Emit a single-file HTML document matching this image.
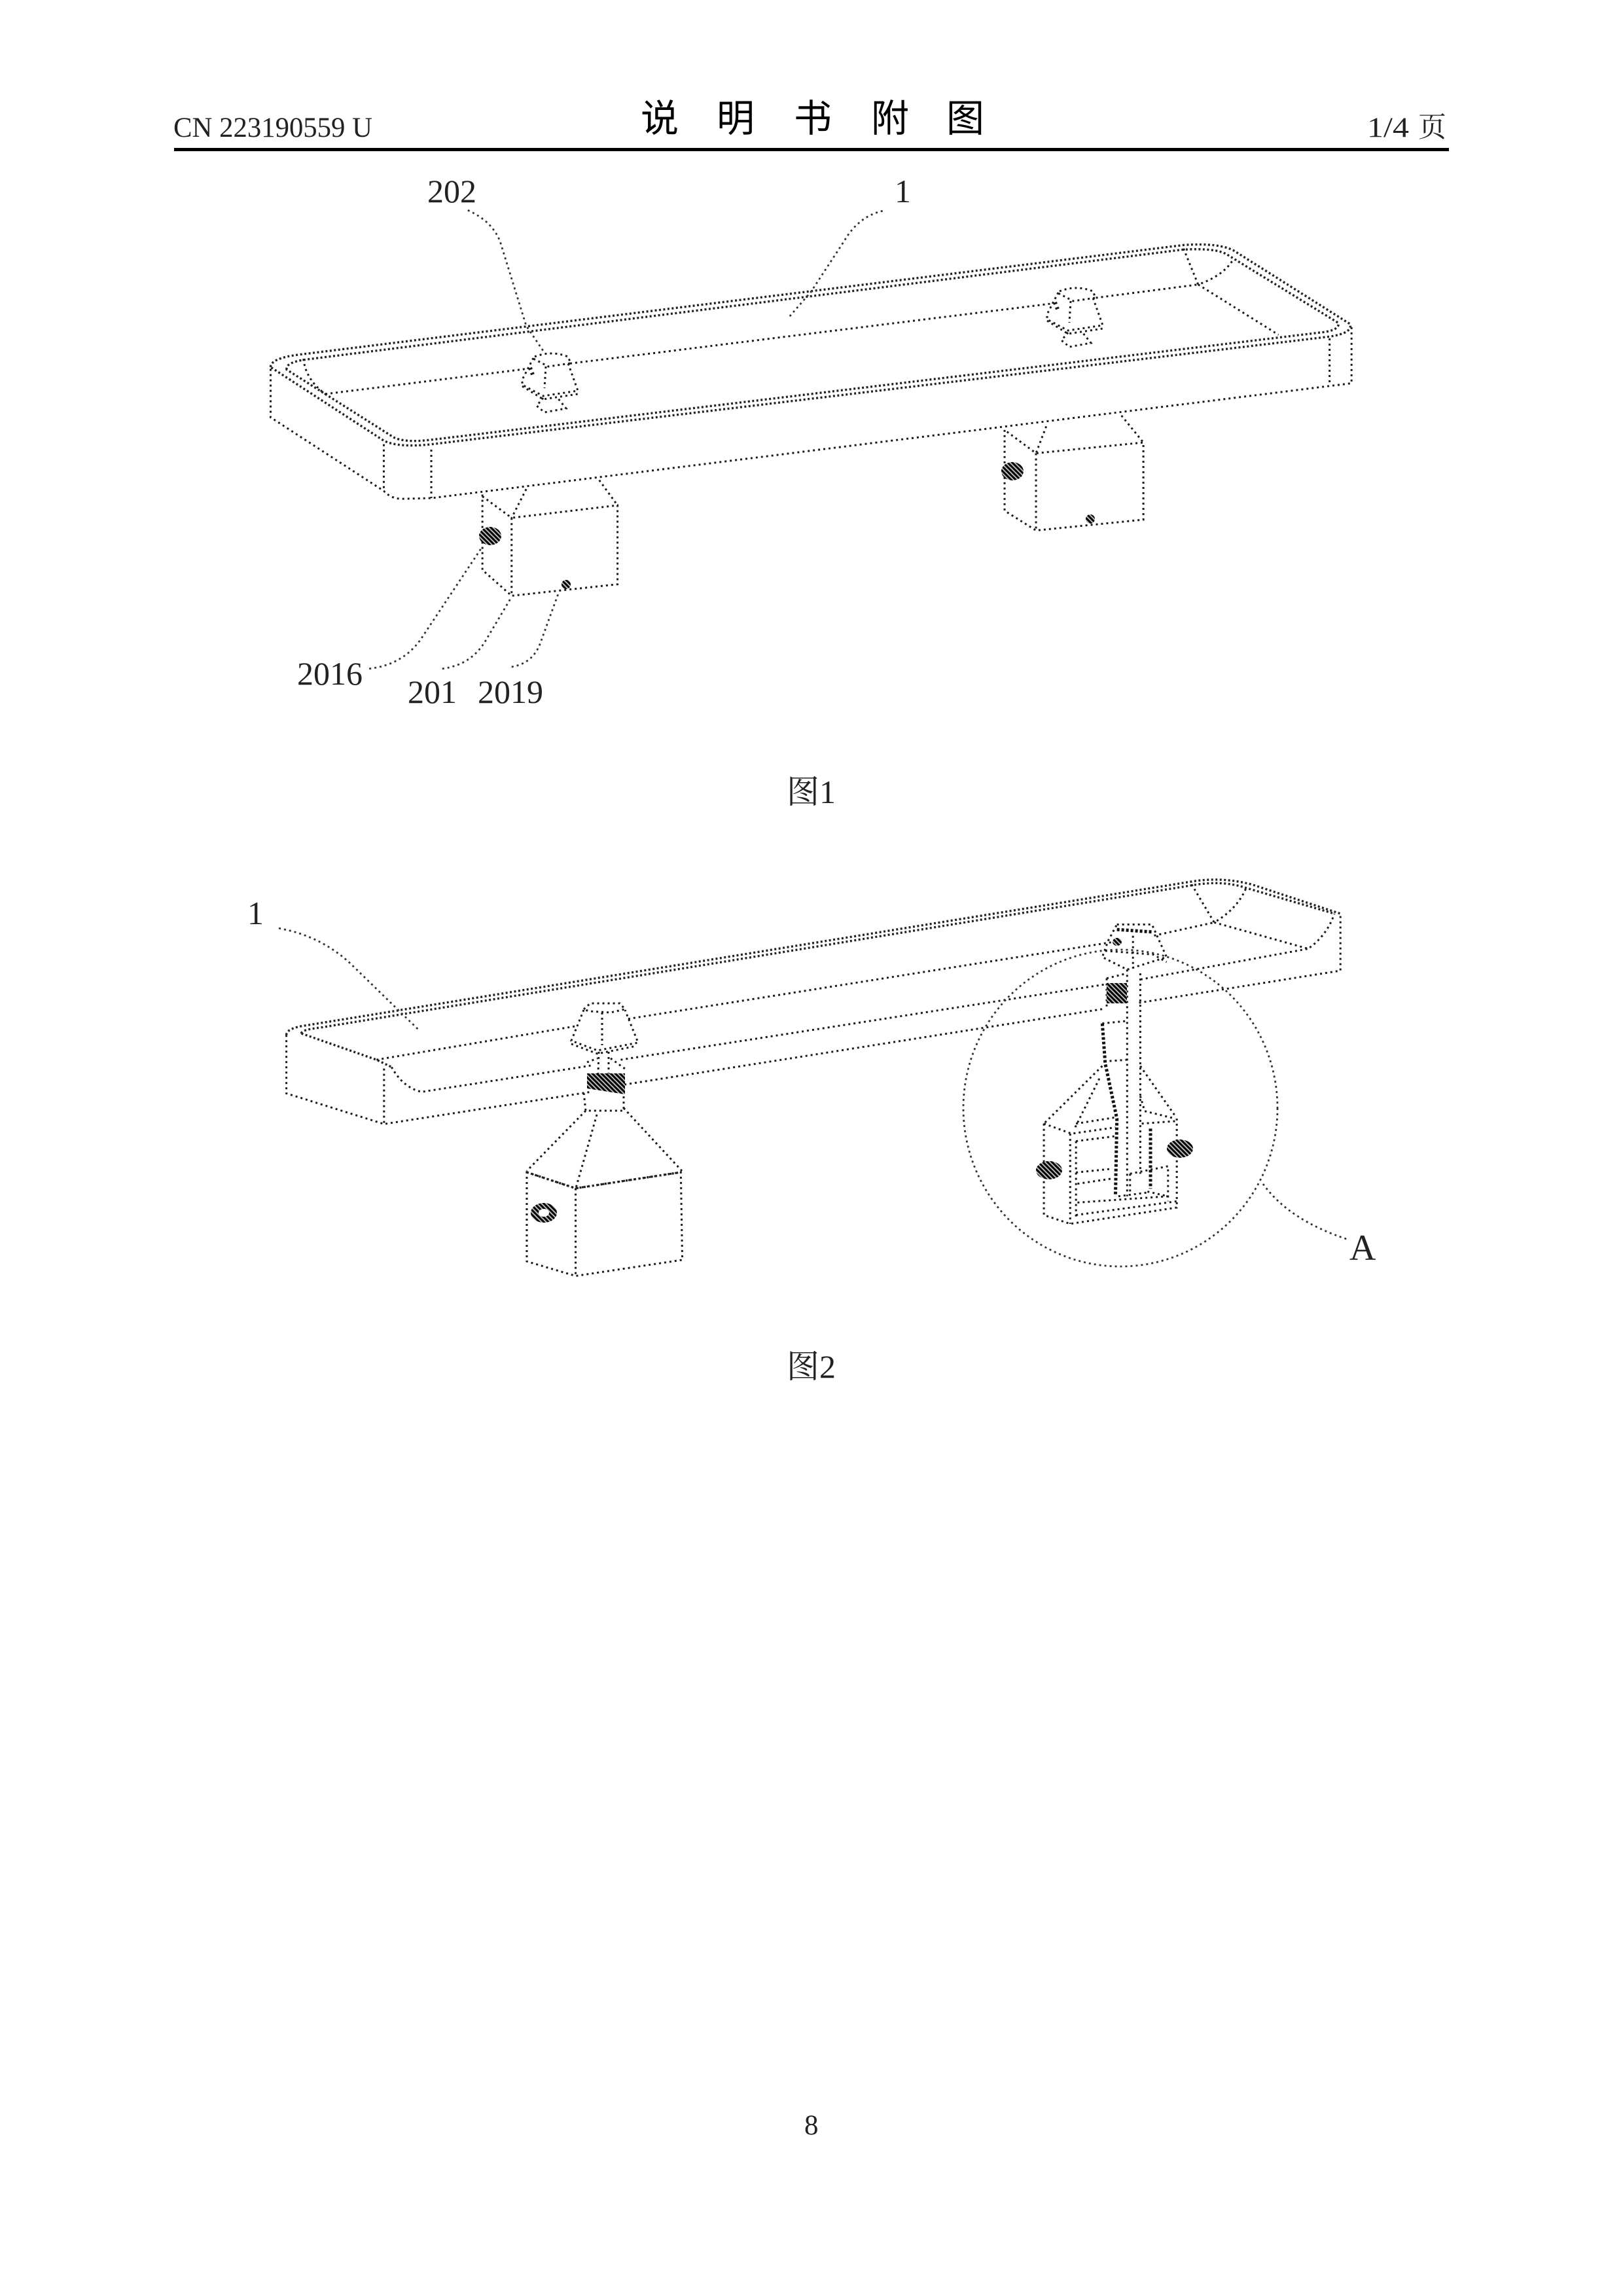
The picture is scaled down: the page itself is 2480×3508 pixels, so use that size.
<!DOCTYPE html>
<html><head><meta charset="utf-8"><style>
html,body{margin:0;padding:0;background:#fff}
svg{display:block}
.d path,.d ellipse{vector-effect:non-scaling-stroke;fill:none;stroke:#1a1a1a;stroke-width:3;stroke-dasharray:3 5}
.l path{stroke:#333;stroke-width:2.8;stroke-dasharray:3 5}
.r path{vector-effect:non-scaling-stroke;fill:none;stroke:#222;stroke-width:3.4;stroke-dasharray:3 3.5}
.k path{vector-effect:non-scaling-stroke;fill:none;stroke:#111;stroke-width:5;stroke-dasharray:4 3}
.h{fill:url(#hat);stroke:none}
text{font-family:"Liberation Serif","Noto Serif CJK SC",serif;fill:#111}
.t{font-family:"Noto Sans CJK SC","Liberation Sans",sans-serif;font-size:58px;fill:#000}
.n{font-size:50px;fill:#222}
.s{font-size:43px;fill:#222}
</style></head><body>
<svg xmlns="http://www.w3.org/2000/svg" width="2480" height="3508" viewBox="0 0 2480 3508">
<defs>
<pattern id="hat" patternUnits="userSpaceOnUse" width="7" height="7">
<rect width="7" height="7" fill="#bbb"/>
<path d="M-1,-1 L8,8 M-1,6 L1,8 M6,-1 L8,1" stroke="#000" stroke-width="3"/>
</pattern>
</defs>
<rect width="2480" height="3508" fill="#fff"/>

<text class="s" x="265" y="209" textLength="304" lengthAdjust="spacingAndGlyphs">CN 223190559 U</text>
<text class="t" x="979" y="201">说</text>
<text class="t" x="1095" y="201">明</text>
<text class="t" x="1213" y="201">书</text>
<text class="t" x="1331" y="201">附</text>
<text class="t" x="1446" y="201">图</text>
<text class="s" x="2089" y="209" textLength="64" lengthAdjust="spacingAndGlyphs">1/4</text>
<text class="s" x="2167" y="209">页</text>
<rect x="266" y="226" width="1948" height="5" fill="#000"/>

<!-- FIG 1 -->
<g transform="translate(380,240) scale(1.116,0.5485)">
 <g class="r">
  <path d="M30,585 Q30,560 70,550 L1280,245 Q1330,238 1350,262 L1508,465 Q1512,490 1480,500 L250,800 Q205,810 185,790 Z"/>
  <path d="M52,592 Q50,572 78,564 L1278,258 Q1325,252 1340,272 L1492,462 Q1494,482 1470,488 L248,788 Q212,796 198,780 Z"/>
 </g>
 <g class="d">
  <path d="M105,660 L380,590 M440,575 L1100,408 M1160,392 L1300,355"/>
  <path d="M75,562 Q78,620 105,660"/>
  <path d="M1280,255 L1300,355 Q1335,330 1348,285 M1300,355 L1410,495"/>
  <path d="M30,590 L30,725 L185,930 Q195,952 210,952 L250,950 L1510,630 L1510,470"/>
  <path d="M185,800 L185,930 M250,815 L250,950 M1480,505 L1480,635"/>
 </g>
 <g class="d">
  <path d="M320,940 L320,1150 L360,1222 M360,1005 L360,1222 L505,1190 L505,970 L360,1005 M320,945 L360,1005 M380,925 L360,1005 M480,900 L505,970"/>
  <path d="M1035,760 L1035,985 L1078,1040 L1225,1010 L1225,795 L1078,825 L1035,760 M1078,825 L1078,1040 M1092,750 L1078,825 M1195,720 L1225,795"/>
 </g>
 <g class="d l">
  <path d="M300,148 Q335,180 345,240 L380,470 L405,545"/>
  <path d="M868,150 Q835,165 815,235 L770,375 L738,450"/>
  <path d="M165,1425 Q210,1415 235,1345 L320,1085"/>
  <path d="M265,1425 Q305,1415 325,1345 L360,1225"/>
  <path d="M360,1420 Q390,1410 400,1350 L425,1210"/>
 </g>
</g>
<g id="p1" class="d">
 <path d="M817,545 Q843,535 868,545 L872,555 L838,560 L815,548 Z"/>
 <path d="M815,547 L798,580 L798,588 L830,605 L883,597 L868,555 M834,560 L832,593 M798,590 L830,610 L883,602"/>
 <path d="M830,608 L820,620 L832,630 L865,624 L852,608"/>
 <path d="M810,562 L815,575" style="stroke-width:6"/>
</g>
<use href="#p1" x="802" y="-100"/>
<ellipse class="h" cx="749" cy="819" rx="17" ry="14"/>
<ellipse class="h" cx="1547" cy="720" rx="17" ry="14"/>
<ellipse class="h" cx="865" cy="893" rx="7" ry="7"/>
<ellipse class="h" cx="1666" cy="793" rx="7" ry="7"/>
<text class="n" x="653" y="309">202</text>
<text class="n" x="1367" y="309">1</text>
<text class="n" x="454" y="1046">2016</text>
<text class="n" x="623" y="1074">201</text>
<text class="n" x="730" y="1074">2019</text>
<text class="n" x="1202" y="1227">图1</text>

<!-- FIG 2 -->
<g transform="translate(340,1300) scale(1.148,0.4464)">
 <g class="r">
  <path d="M85,630 Q85,610 105,600 L1290,105 Q1330,88 1370,115 L1488,215"/>
  <path d="M105,625 Q105,612 130,605 L1290,118 Q1330,100 1360,125 L1480,215"/>
  <path d="M105,625 L205,715 L225,740"/>
 </g>
 <g class="d">
  <path d="M205,715 L470,600 M540,575 L1190,310 M1240,290 L1320,245"/>
  <path d="M225,740 Q240,810 265,825 L490,735 M530,715 L1180,455 M1222,440 L1445,335"/>
  <path d="M1290,115 L1320,245 Q1350,200 1362,130 M1320,245 L1445,335 Q1470,290 1480,215"/>
  <path d="M85,630 L85,830 L215,935 L490,825 M535,800 L1175,540 M1220,520 L1488,410 L1488,215"/>
  <path d="M215,745 L215,935"/>
  <path d="M405,1100 L470,1155 L610,1100 L612,1400 L470,1455 L405,1405 Z M470,1155 L470,1455"/>
 </g>
 <g class="r"><path d="M405,1100 L470,1155 L610,1100"/></g>
 <g class="d l">
  <path d="M75,265 Q130,290 170,385 L262,615"/>
  <path d="M1385,1140 Q1420,1265 1498,1330"/>
 </g>
</g>
<!-- left post fig 2 -->
<g class="d">
 <path d="M892,1542 L902,1533 L947,1533 L955,1542 L933,1547 L900,1545 Z"/>
 <path d="M892,1543 L873,1590 L913,1605 L975,1593 L955,1543 M873,1595 L913,1610 L973,1598 M920,1547 L920,1597"/>
 <path d="M915,1607 L914,1640 M930,1607 L930,1640"/>
 <path d="M897,1623 L913,1617 M933,1617 L955,1633"/>
 <path d="M892,1670 L895,1697 L953,1697 L953,1670"/>
 <path d="M895,1697 L805,1789 M953,1693 L1042,1789 M912,1703 L880,1815"/>
</g>
<path class="h" d="M897,1640 L955,1640 L955,1672 L897,1663 Z"/>
<ellipse class="h" cx="831" cy="1853" rx="20" ry="15"/>
<ellipse cx="831" cy="1853" rx="8" ry="6" fill="#fff"/>

<ellipse cx="1712" cy="1693" rx="240" ry="242" fill="none" stroke="#333" stroke-width="2.8" stroke-dasharray="3 5"/>
<text class="n" x="378" y="1412">1</text>
<text style="font-size:56px;fill:#222" x="2062" y="1925">A</text>

<!-- detail inside circle -->
<g transform="translate(1450,1380) scale(.4464,.3827)">
 <g class="d">
  <path d="M575,85 L695,85 L745,215 L610,265 L525,215 L545,150 Z"/>
  <path d="M630,130 L630,260 M535,190 L700,205 L745,235"/>
  <path d="M610,265 L610,1170 M655,280 L655,1080"/>
  <path d="M540,300 L610,280 M540,300 L540,420"/>
  <path d="M525,480 L610,470 M550,630 L610,625"/>
  <path d="M525,650 L325,880 M515,700 L430,900 M655,650 L775,850 M655,770 L670,830 L775,860"/>
  <path d="M325,880 L420,920 L570,895 M325,880 L325,1245 L415,1280 L780,1215 L780,860 M415,920 L415,1280"/>
  <path d="M435,880 L570,855 M435,950 L570,930 M435,950 L435,1260 M660,880 L775,870"/>
  <path d="M435,1075 L560,1060 M440,1120 L555,1100 M440,1195 L750,1170 L675,1150 M580,1170 L680,1155"/>
  <path d="M620,1080 L750,1050 L750,1190 M620,1080 L620,1165 M435,1245 L780,1190"/>
 </g>
 <g class="k">
  <path d="M525,480 L535,640 L575,860 L570,1170"/>
  <path d="M690,900 L690,1140"/>
  <path d="M575,105 L700,115"/>
 </g>
</g>
<rect class="h" x="1691" y="1502" width="31" height="31"/>
<ellipse class="h" cx="1603" cy="1788" rx="20" ry="14"/>
<ellipse class="h" cx="1803" cy="1755" rx="20" ry="14"/>
<ellipse class="h" cx="1707" cy="1439" rx="7" ry="6"/>

<text class="n" x="1202" y="2105">图2</text>
<text class="s" x="1229" y="3261">8</text>
</svg>
</body></html>
